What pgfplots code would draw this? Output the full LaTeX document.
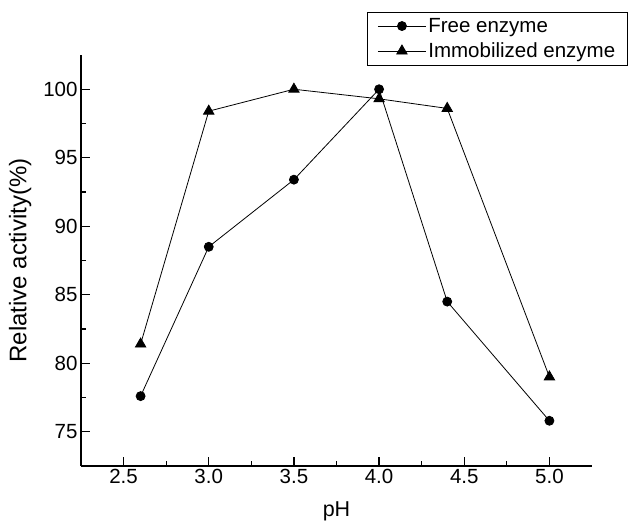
\documentclass[border=0pt]{standalone}
\usepackage{pgfplots}
\pgfplotsset{compat=1.18}
\usepackage{fontspec}
\setmainfont{Liberation Sans}

\begin{document}
\begin{tikzpicture}
\begin{axis}[
scale only axis,
width=511pt, height=411pt,
xmin=2.25, xmax=5.25,
ymin=72.5, ymax=102.5,
axis x line*=bottom,
axis y line*=left,
axis line style={line width=1.2pt},
xtick={2.5,3.0,3.5,4.0,4.5,5.0},
ytick={75,80,85,90,95,100},
minor tick num=1,
tick align=inside,
major tick length=9pt,
minor tick length=5pt,
every tick/.style={black, line width=1.2pt},
xticklabel style={/pgf/number format/fixed, /pgf/number format/fixed zerofill, /pgf/number format/precision=1},
/pgf/number format/assume math mode=true,
tick label style={font=\fontsize{20.5}{24}\selectfont},
xlabel={pH},
ylabel={Relative activity(\%)},
x label style={font=\fontsize{21.5}{25}\selectfont, at={(axis description cs:0.5,0)}, anchor=north, yshift=-32pt},
y label style={font=\fontsize{24}{28}\selectfont, at={(axis description cs:0,0.5)}, anchor=south, yshift=46pt},
legend style={at={(0.56,1.105)}, anchor=north west, draw=black, line width=0.8pt,
  font=\fontsize{20.5}{24}\selectfont, inner xsep=10pt, inner ysep=4pt, row sep=5pt},
legend cell align=left,
legend image code/.code={\draw[mark repeat=2, mark phase=2, #1] plot coordinates {(0pt,0pt) (24pt,0pt) (48pt,0pt)};},
clip=false,
]
\addplot[black, line width=0.8pt, mark=*, mark size=4.5pt] coordinates {(2.6,77.6) (3.0,88.5) (3.5,93.4) (4.0,100.0) (4.4,84.5) (5.0,75.8)};
\addlegendentry{Free enzyme}
\addplot[black, line width=0.8pt, mark=triangle*, mark size=6pt] coordinates {(2.6,81.4) (3.0,98.4) (3.5,100.0) (4.0,99.3) (4.4,98.6) (5.0,79.0)};
\addlegendentry{Immobilized enzyme}
\end{axis}
\path (-81pt,-63pt) rectangle (562pt,466pt);
\end{tikzpicture}
\end{document}
